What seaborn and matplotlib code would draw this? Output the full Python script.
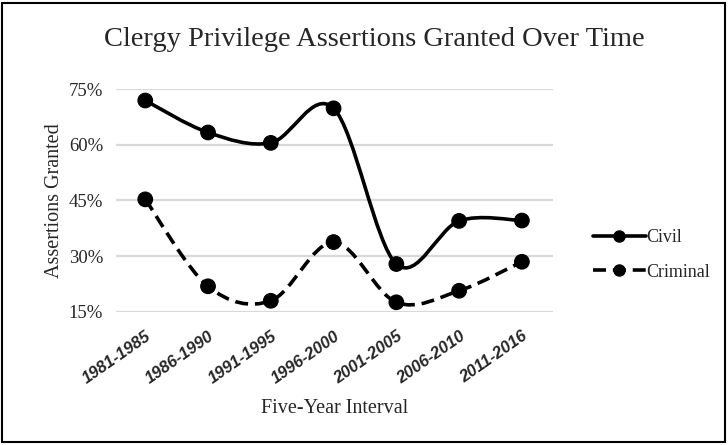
import seaborn as sns
import matplotlib.pyplot as plt
import pandas as pd
from matplotlib.path import Path
from matplotlib.patches import PathPatch, Rectangle
from matplotlib.lines import Line2D
from matplotlib.ticker import PercentFormatter

intervals = ["1981-1985", "1986-1990", "1991-1995", "1996-2000",
             "2001-2005", "2006-2010", "2011-2016"]
civil = [71.9, 63.3, 60.5, 69.8, 27.9, 39.5, 39.6]
criminal = [45.3, 21.9, 18.0, 33.8, 17.6, 20.7, 28.5]
y_ticks = [15, 30, 45, 60, 75]


def smooth_path(xs, ys):
    # Excel-like smoothed line: cubic bezier segments through the points
    n = len(xs)
    verts = [(xs[0], ys[0])]
    codes = [Path.MOVETO]
    for i in range(n - 1):
        i0 = max(i - 1, 0)
        i3 = min(i + 2, n - 1)
        c1 = (xs[i] + (xs[i + 1] - xs[i0]) / 6, ys[i] + (ys[i + 1] - ys[i0]) / 6)
        c2 = (xs[i + 1] - (xs[i3] - xs[i]) / 6, ys[i + 1] - (ys[i3] - ys[i]) / 6)
        verts += [c1, c2, (xs[i + 1], ys[i + 1])]
        codes += [Path.CURVE4] * 3
    return Path(verts, codes)


def main():
    sns.set_style("white")
    plt.rcParams['font.family'] = ['Liberation Serif', 'DejaVu Serif']

    pos = list(range(len(intervals)))
    df = pd.DataFrame({
        "pos": pos * 2,
        "value": civil + criminal,
        "series": ["Civil"] * len(civil) + ["Criminal"] * len(criminal),
    })

    fig = plt.figure(figsize=(7.28, 4.45), dpi=100)
    ax = fig.add_axes([0.159, 0.299, 0.601, 0.501])

    # gridlines
    for t in y_ticks:
        ax.axhline(t, color="#d9d9d9", lw=1.6, zorder=0)

    dash = (0, (3.6, 1.9))
    # smoothed curves
    ax.add_patch(PathPatch(smooth_path(pos, civil), fill=False, ec="black",
                           lw=2.6, capstyle="round", zorder=2))
    ax.add_patch(PathPatch(smooth_path(pos, criminal), fill=False, ec="black",
                           lw=2.6, linestyle=dash, zorder=2))

    # markers
    sns.scatterplot(data=df, x="pos", y="value", hue="series",
                    palette=["black", "black"], s=110, edgecolor="black",
                    legend=False, ax=ax, zorder=3)

    ax.set_xlim(-0.47, 6.5)
    ax.set_ylim(15, 75)
    ax.set_yticks(y_ticks)
    ax.yaxis.set_major_formatter(PercentFormatter(decimals=0))
    ax.set_xticks(pos)
    ax.set_xticklabels(intervals, rotation=35, ha="right",
                       rotation_mode="anchor", fontfamily="Liberation Sans",
                       fontweight="bold", fontstyle="italic", fontsize=12)
    ax.tick_params(axis="y", length=0, pad=9, labelsize=13.5)
    ax.tick_params(axis="x", length=0, pad=12)
    for s in ax.spines.values():
        s.set_visible(False)

    ax.set_xlabel("Five-Year Interval", fontsize=14.5)
    ax.xaxis.set_label_coords(0.5, -0.39)
    ax.set_ylabel("Assertions Granted", fontsize=14.5)
    ax.yaxis.set_label_coords(-0.118, 0.5)

    fig.text(0.514, 1 - 40 / 445, "Clergy Privilege Assertions Granted Over Time",
             ha="center", va="center", fontsize=20.5)

    handles = [
        Line2D([], [], color="black", lw=2.6, marker="o", markersize=8),
        Line2D([], [], color="black", lw=2.6, marker="o", markersize=8,
               linestyle=dash),
    ]
    fig.legend(handles, ["Civil", "Criminal"], loc="center left",
               bbox_to_anchor=(0.805, 0.427), frameon=False, fontsize=13,
               handlelength=2.9, handletextpad=0.05, labelspacing=0.95,
               borderaxespad=0)

    fig.add_artist(Rectangle((0.003, 0.006), 0.993, 0.988,
                             transform=fig.transFigure, fill=False,
                             ec="black", lw=1.5))

    fig.savefig("out.png", dpi=100)


if __name__ == "__main__":
    main()
